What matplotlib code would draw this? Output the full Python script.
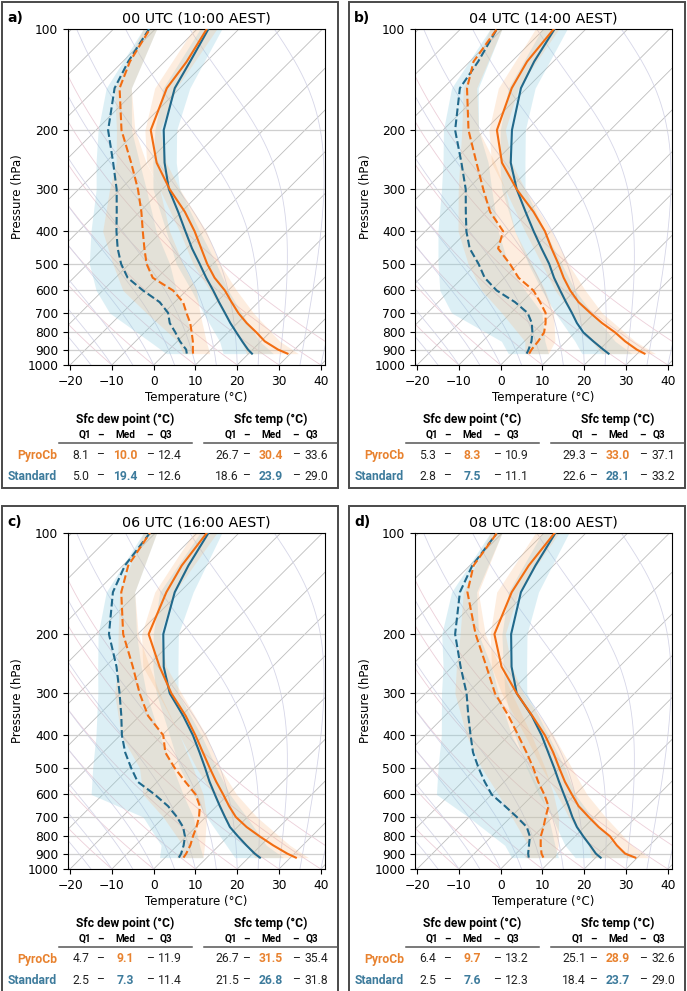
import numpy as np
import matplotlib
matplotlib.use("Agg")
import matplotlib.pyplot as plt
from matplotlib.patches import Rectangle
from matplotlib.lines import Line2D
from matplotlib.ticker import NullLocator

W, H = 687, 991

# pressure levels (hPa) of the median profiles and of the quartile bands
p_levels = [925, 900, 850, 800, 750, 700, 650, 600, 550, 500, 450, 400, 350, 300, 250, 200, 150, 125, 100]
p_band = [925, 850, 700, 600, 500, 400, 300, 250, 200, 150, 100]

titles = ["00 UTC (10:00 AEST)", "04 UTC (14:00 AEST)", "06 UTC (16:00 AEST)", "08 UTC (18:00 AEST)"]
letters = ["a)", "b)", "c)", "d)"]

# ---- 00 UTC ----
pyro_t_00 = [29.3, 26.1, 20.9, 16.8, 12.2, 7.8, 3.6, -0.8, -6.3, -11.4, -16.5, -22.2, -29.2, -38.2, -47.7, -56.9, -63.1, -64.7, -67.7]
std_t_00 = [20.8, 18.9, 15.5, 12.0, 8.3, 4.6, 0.6, -3.6, -8.3, -13.2, -18.7, -24.4, -30.8, -38.4, -45.8, -53.8, -61.2, -63.9, -67.3]
pyro_td_00 = [6.7, 5.7, 3.7, 1.3, -1.3, -4.6, -8.0, -13.2, -21.1, -25.9, -30.1, -34.6, -39.6, -45.8, -53.8, -63.9, -74.4, -78.3, -81.3]
std_td_00 = [5.2, 4.1, 0.6, -2.6, -6.2, -9.0, -13.6, -20.4, -27.1, -32.0, -36.5, -40.9, -45.5, -50.9, -58.1, -67.1, -75.6, -78.7, -81.5]
std_t_lo_00 = [13.9, 10.1, -0.6, -8.8, -18.8, -29.0, -42.2, -48.6, -55.9, -64.0, -69.3]
std_t_hi_00 = [25.9, 19.7, 8.6, 0.0, -9.2, -21.0, -35.8, -43.0, -50.7, -57.6, -64.1]
pyro_t_lo_00 = [19.5, 15.3, 4.2, -4.4, -14.8, -25.8, -40.6, -50.1, -58.3, -66.0, -70.9]
pyro_t_hi_00 = [31.9, 24.5, 11.4, 2.0, -8.4, -19.4, -35.8, -45.4, -54.7, -60.8, -65.3]
std_td_lo_00 = [0.3, -6.7, -23.0, -31.6, -39.6, -47.0, -55.8, -62.2, -69.5, -77.6, -82.9]
std_td_hi_00 = [6.7, 3.3, -4.6, -12.4, -20.4, -31.4, -43.8, -51.8, -61.5, -71.6, -79.7]
pyro_td_lo_00 = [4.3, 0.1, -14.2, -25.2, -34.0, -44.2, -52.6, -57.4, -65.1, -75.6, -82.9]
pyro_td_hi_00 = [10.7, 6.9, -1.4, -7.6, -17.2, -28.2, -40.6, -50.2, -60.7, -71.6, -79.7]

# ---- 04 UTC ----
pyro_t_04 = [31.7, 28.9, 24.1, 19.6, 14.2, 9.0, 3.6, -1.2, -5.8, -10.4, -15.7, -21.4, -28.8, -38.2, -48.1, -57.1, -63.6, -66.3, -67.7]
std_t_04 = [23.1, 20.9, 16.5, 12.0, 8.2, 4.6, 0.6, -3.6, -8.1, -12.6, -18.1, -24.1, -30.7, -38.2, -46.0, -53.5, -61.4, -64.6, -67.5]
pyro_td_04 = [4.1, 3.7, 3.3, 2.6, 0.7, -1.7, -5.6, -10.0, -16.6, -22.0, -28.5, -31.4, -39.2, -46.2, -54.2, -63.9, -74.3, -79.1, -81.3]
std_td_04 = [3.5, 3.0, 1.7, -0.2, -2.6, -6.0, -11.6, -18.8, -24.7, -29.5, -35.3, -40.2, -45.0, -50.4, -57.8, -67.1, -76.0, -78.0, -81.3]
std_t_lo_04 = [16.7, 12.1, 0.6, -8.0, -17.6, -28.6, -41.8, -48.6, -56.3, -64.4, -70.5]
std_t_hi_04 = [28.7, 21.7, 9.4, 0.0, -9.6, -21.4, -36.2, -42.6, -50.3, -58.0, -64.5]
pyro_t_lo_04 = [21.5, 16.1, 4.6, -4.8, -14.4, -26.2, -41.0, -50.6, -59.0, -66.8, -72.1]
pyro_t_hi_04 = [34.3, 26.5, 11.8, 2.4, -8.0, -19.8, -36.2, -45.8, -55.1, -62.0, -66.5]
std_td_lo_04 = [-0.9, -5.5, -24.2, -32.4, -39.2, -47.0, -56.2, -62.2, -69.9, -78.0, -82.9]
std_td_hi_04 = [8.7, 4.9, -2.6, -12.0, -22.4, -32.6, -44.2, -51.4, -61.5, -71.6, -80.1]
pyro_td_lo_04 = [3.1, 0.1, -12.2, -22.4, -32.0, -42.2, -52.2, -58.2, -65.5, -75.2, -82.9]
pyro_td_hi_04 = [8.7, 7.3, 0.2, -7.2, -16.8, -28.6, -41.0, -49.8, -61.5, -72.0, -80.1]

# ---- 06 UTC ----
pyro_t_06 = [31.3, 28.3, 22.9, 17.6, 12.2, 7.2, 3.0, -1.2, -5.9, -10.8, -16.1, -22.0, -29.0, -37.8, -47.0, -57.4, -63.2, -65.9, -67.7]
std_t_06 = [22.7, 20.5, 16.5, 12.4, 8.2, 4.6, 0.8, -3.2, -7.5, -11.9, -16.9, -22.6, -29.6, -38.2, -46.0, -53.9, -61.2, -64.3, -67.3]
pyro_td_06 = [4.4, 4.1, 3.1, 1.6, 0.2, -1.6, -4.0, -7.8, -13.3, -19.2, -25.1, -29.7, -38.0, -45.4, -53.4, -63.5, -74.0, -78.7, -81.3]
std_td_06 = [3.3, 2.9, 1.5, -0.3, -3.0, -6.9, -11.6, -17.6, -24.7, -29.6, -34.7, -39.6, -44.4, -50.2, -57.3, -66.9, -76.0, -79.5, -81.3]
std_t_lo_06 = [16.7, 11.7, 0.2, -8.4, -18.0, -28.2, -41.4, -48.6, -56.3, -64.8, -69.3]
std_t_hi_06 = [28.3, 21.3, 9.8, 0.4, -9.2, -20.6, -36.2, -42.6, -50.3, -56.8, -64.1]
pyro_t_lo_06 = [21.5, 16.5, 4.2, -3.6, -14.0, -25.8, -41.0, -51.0, -59.1, -66.0, -70.9]
pyro_t_hi_06 = [34.3, 26.9, 12.2, 2.0, -8.4, -19.4, -35.4, -45.4, -54.7, -61.2, -65.3]
std_td_lo_06 = [-1.3, -3.9, -15.0, -32.8, -38.8, -45.8, -55.4, -61.8, -69.5, -77.6, -82.9]
std_td_hi_06 = [9.1, 5.3, -3.0, -10.8, -19.6, -30.6, -43.8, -51.4, -60.3, -70.8, -79.7]
pyro_td_lo_06 = [2.7, 1.3, -10.2, -20.4, -27.6, -39.8, -51.4, -57.0, -64.7, -74.4, -82.9]
pyro_td_hi_06 = [9.1, 6.5, 0.2, -6.0, -14.8, -25.8, -40.6, -49.4, -59.9, -70.8, -79.7]

# ---- 08 UTC ----
pyro_t_08 = [29.5, 26.1, 22.1, 18.4, 13.4, 8.6, 3.6, -0.8, -5.5, -10.2, -15.3, -21.4, -29.1, -38.2, -48.2, -57.7, -63.6, -65.9, -67.5]
std_t_08 = [21.2, 19.1, 15.7, 12.0, 8.2, 4.7, 1.2, -2.7, -6.9, -11.4, -16.5, -22.2, -29.2, -38.2, -45.8, -53.7, -61.4, -64.3, -67.3]
pyro_td_08 = [7.5, 6.1, 3.9, 1.8, 0.2, -1.7, -3.6, -7.4, -11.9, -16.4, -21.7, -27.8, -34.8, -43.4, -51.8, -62.2, -74.2, -79.1, -81.3]
std_td_08 = [4.0, 2.9, 1.1, -0.8, -3.8, -8.6, -14.0, -20.0, -24.7, -29.5, -34.5, -39.2, -44.4, -50.2, -58.0, -67.1, -76.0, -79.4, -81.3]
std_t_lo_08 = [15.1, 9.7, -0.2, -8.8, -18.0, -28.6, -41.0, -47.8, -55.9, -64.4, -70.5]
std_t_hi_08 = [29.5, 21.7, 9.4, 0.0, -8.8, -20.6, -35.8, -42.2, -49.9, -57.2, -64.1]
pyro_t_lo_08 = [19.1, 15.3, 3.8, -4.4, -14.4, -26.2, -41.8, -50.6, -58.7, -67.2, -72.1]
pyro_t_hi_08 = [32.7, 25.7, 12.6, 2.8, -7.2, -19.4, -36.6, -45.8, -55.1, -62.0, -66.5]
std_td_lo_08 = [-0.1, -4.7, -20.2, -33.2, -39.2, -46.2, -56.2, -62.2, -70.3, -78.0, -82.9]
std_td_hi_08 = [11.1, 7.3, -1.0, -8.0, -17.6, -29.4, -42.6, -50.6, -61.5, -72.0, -80.1]
pyro_td_lo_08 = [3.1, 0.9, -9.8, -18.4, -28.8, -40.2, -53.0, -59.0, -65.9, -75.2, -82.9]
pyro_td_hi_08 = [10.3, 8.1, 1.4, -5.2, -13.6, -24.6, -39.4, -48.6, -59.9, -71.6, -80.1]

# surface quartiles for the tables: (Q1, median, Q3)
pyro_sfc_td = [(8.1, 10.0, 12.4), (5.3, 8.3, 10.9), (4.7, 9.1, 11.9), (6.4, 9.7, 13.2)]
pyro_sfc_t = [(26.7, 30.4, 33.6), (29.3, 33.0, 37.1), (26.7, 31.5, 35.4), (25.1, 28.9, 32.6)]
std_sfc_td = [(5.0, 19.4, 12.6), (2.8, 7.5, 11.1), (2.5, 7.3, 11.4), (2.5, 7.6, 12.3)]
std_sfc_t = [(18.6, 23.9, 29.0), (22.6, 28.1, 33.2), (21.5, 26.8, 31.8), (18.4, 23.7, 29.0)]

profiles = [
    (pyro_t_00, pyro_td_00, std_t_00, std_td_00),
    (pyro_t_04, pyro_td_04, std_t_04, std_td_04),
    (pyro_t_06, pyro_td_06, std_t_06, std_td_06),
    (pyro_t_08, pyro_td_08, std_t_08, std_td_08),
]
bands = [
    ((pyro_t_lo_00, pyro_t_hi_00), (pyro_td_lo_00, pyro_td_hi_00), (std_t_lo_00, std_t_hi_00), (std_td_lo_00, std_td_hi_00)),
    ((pyro_t_lo_04, pyro_t_hi_04), (pyro_td_lo_04, pyro_td_hi_04), (std_t_lo_04, std_t_hi_04), (std_td_lo_04, std_td_hi_04)),
    ((pyro_t_lo_06, pyro_t_hi_06), (pyro_td_lo_06, pyro_td_hi_06), (std_t_lo_06, std_t_hi_06), (std_td_lo_06, std_td_hi_06)),
    ((pyro_t_lo_08, pyro_t_hi_08), (pyro_td_lo_08, pyro_td_hi_08), (std_t_lo_08, std_t_hi_08), (std_td_lo_08, std_td_hi_08)),
]

# background reference lines (°C at 1000 hPa)
isotherm_t = list(range(-130, 50, 10))
dry_theta = list(range(-30, 60, 10))
moist_t0 = list(range(-40, 50, 5))

ORANGE = "#f26d12"
BLUE = "#21698b"
ORANGE_TXT = "#e8822f"
BLUE_TXT = "#3d7b9c"
XMIN, XMAX = -20.5, 41.0

# panel offsets in pixels relative to panel a
offsets = [(0, 0), (347, 0), (0, 504), (347, 504)]


def fx(x):
    return x / W


def fy(y):
    return 1 - y / H


def moist_adiabat(t0, p):
    # integrate the saturated lapse rate upward from 1000 hPa
    Rd, Cp, Lv, eps = 287.04, 1005.7, 2.501e6, 0.622
    T = t0 + 273.15
    out = [T]
    for i in range(1, len(p)):
        dp = p[i] - p[i - 1]
        tc = T - 273.15
        es = 6.112 * np.exp(17.67 * tc / (tc + 243.5))
        rs = eps * es / (p[i - 1] - es)
        num = Rd * T + Lv * rs
        den = Cp + Lv * Lv * rs * eps / (Rd * T * T)
        T = T + num / den / p[i - 1] * dp
        out.append(T)
    return np.array(out) - 273.15


fig = plt.figure(figsize=(W / 100, H / 100), dpi=100)

for k in range(4):
    ox, oy = offsets[k]
    # panel frame
    fig.add_artist(Rectangle((fx(2 + ox), fy(488 + oy)), 336 / W, 486 / H,
                             transform=fig.transFigure, fill=False, ec="#4a4a4a", lw=1.4))

    left, right, top, bottom = 68 + ox, 325 + ox, 29 + oy, 365 + oy
    ax = fig.add_axes([fx(left), fy(bottom), (right - left) / W, (bottom - top) / H])
    # 45 degree isotherms on screen
    skew = (XMAX - XMIN) * (bottom - top) / (right - left)

    def sk(t, p):
        return np.asarray(t, float) + skew * np.log10(1000.0 / np.asarray(p, float))

    pp = np.geomspace(1050, 95, 120)
    for t0 in isotherm_t:
        ax.plot(sk(t0, pp), pp, color="#bdbdbd", lw=0.6, zorder=1)
    for th in dry_theta:
        tt = (th + 273.15) * (pp / 1000.0) ** 0.2857 - 273.15
        ax.plot(sk(tt, pp), pp, color="#eccfd9", lw=0.6, zorder=1)
    pm = np.geomspace(1000, 95, 400)
    for t0 in moist_t0:
        tm = moist_adiabat(t0, pm)
        ax.plot(sk(tm, pm), pm, color="#d6d6e8", lw=0.6, zorder=1)

    (pt_b, ptd_b, st_b, std_b) = bands[k]
    for (lo, hi), col, a in [(st_b, "#8ccde0", 0.3), (std_b, "#8ccde0", 0.3),
                             (pt_b, "#f9bd8a", 0.27), (ptd_b, "#f9bd8a", 0.27)]:
        ax.fill_betweenx(p_band, sk(lo, p_band), sk(hi, p_band), color=col, alpha=a, lw=0, zorder=2)

    pt, ptd, st, std = profiles[k]
    ax.plot(sk(st, p_levels), p_levels, color=BLUE, lw=1.5, zorder=4)
    ax.plot(sk(std, p_levels), p_levels, color=BLUE, lw=1.5, ls="--", zorder=4)
    ax.plot(sk(pt, p_levels), p_levels, color=ORANGE, lw=1.5, zorder=5)
    ax.plot(sk(ptd, p_levels), p_levels, color=ORANGE, lw=1.5, ls="--", zorder=5)

    ax.set_yscale("log")
    ax.set_ylim(1000, 100)
    ax.set_xlim(XMIN, XMAX)
    ax.set_yticks(range(100, 1001, 100))
    ax.set_yticklabels([str(v) for v in range(100, 1001, 100)])
    ax.yaxis.set_minor_locator(NullLocator())
    ax.set_xticks([-20, -10, 0, 10, 20, 30, 40])
    ax.grid(axis="y", color="#cfcfcf", lw=0.9, zorder=1)
    ax.tick_params(labelsize=8.8)
    ax.set_xlabel("Temperature (\u00b0C)", fontsize=8.5, labelpad=2)
    ax.set_ylabel("Pressure (hPa)", fontsize=8.5, labelpad=2)
    ax.set_title(titles[k], fontsize=10.3, pad=5)
    fig.text(fx(7 + ox), fy(18 + oy), letters[k], fontsize=10, fontweight="bold", va="center")

    # summary table of surface values
    tf = "Roboto"
    fig.text(fx(125 + ox), fy(419 + oy), "Sfc dew point (\u00b0C)", family=tf, fontsize=8.7,
             fontweight="bold", ha="center", va="center")
    fig.text(fx(271 + ox), fy(419 + oy), "Sfc temp (\u00b0C)", family=tf, fontsize=8.7,
             fontweight="bold", ha="center", va="center")
    for base in (0, 146):
        for xs, s in [(85, "Q1"), (100, "\u2013"), (125, "Med"), (149, "\u2013"), (166, "Q3")]:
            fig.text(fx(xs + base + ox), fy(435 + oy), s, family=tf, fontsize=7.2,
                     fontweight="bold", ha="center", va="center")
    fig.add_artist(Line2D([fx(59 + ox), fx(192 + ox)], [fy(443 + oy)] * 2,
                          transform=fig.transFigure, color="#555555", lw=1.1))
    fig.add_artist(Line2D([fx(204 + ox), fx(337 + ox)], [fy(443 + oy)] * 2,
                          transform=fig.transFigure, color="#555555", lw=1.1))
    rows = [("PyroCb", ORANGE_TXT, pyro_sfc_td[k], pyro_sfc_t[k], 455),
            ("Standard", BLUE_TXT, std_sfc_td[k], std_sfc_t[k], 476)]
    for name, col, td_q, t_q, yr in rows:
        fig.text(fx(57 + ox), fy(yr + oy), name, family=tf, fontsize=8.7, fontweight="bold",
                 color=col, ha="right", va="center")
        for base, q in ((0, td_q), (146, t_q)):
            fig.text(fx(81 + base + ox), fy(yr + oy), f"{q[0]:.1f}", family=tf, fontsize=8.7,
                     ha="center", va="center", color="#222222")
            fig.text(fx(100 + base + ox), fy(yr + oy), "\u2013", family=tf, fontsize=8.7,
                     ha="center", va="center", color="#222222")
            fig.text(fx(125 + base + ox), fy(yr + oy), f"{q[1]:.1f}", family=tf, fontsize=8.7,
                     fontweight="bold", ha="center", va="center", color=col)
            fig.text(fx(150 + base + ox), fy(yr + oy), "\u2013", family=tf, fontsize=8.7,
                     ha="center", va="center", color="#222222")
            fig.text(fx(170 + base + ox), fy(yr + oy), f"{q[2]:.1f}", family=tf, fontsize=8.7,
                     ha="center", va="center", color="#222222")

fig.savefig("out.png", dpi=100)
